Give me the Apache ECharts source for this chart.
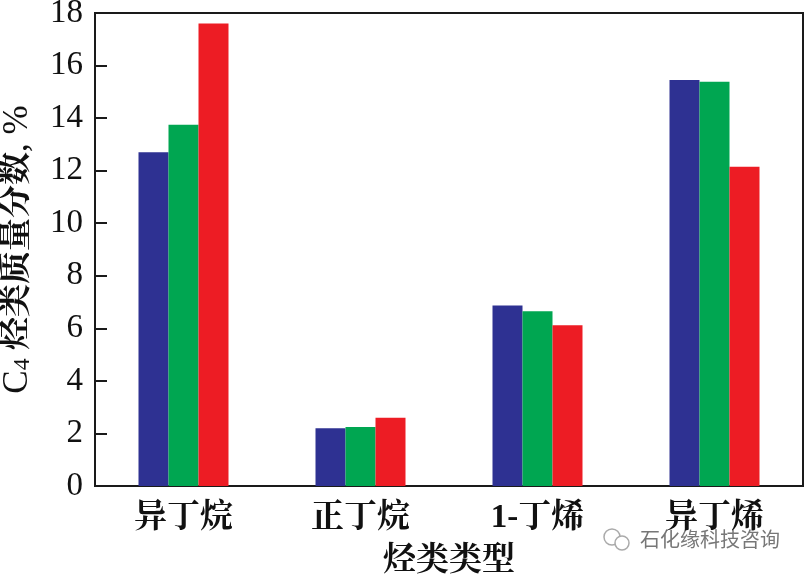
<!DOCTYPE html>
<html><head><meta charset="utf-8">
<script src="https://cdn.jsdelivr.net/npm/echarts@6/dist/echarts.min.js"></script>
<style>html,body{margin:0;padding:0;background:#fff}#c{width:805px;height:574px}</style></head>
<body><div id="c"></div>
<script>
const categories=['异丁烷','正丁烷','1-丁烯','异丁烯'];
const seriesA=[12.7,2.2,6.87,15.45];
const seriesB=[13.75,2.25,6.65,15.38];
const seriesC=[17.6,2.6,6.12,12.15];
const colors=['#2e3192','#00a651','#ed1c24'];
const font='"Liberation Serif","Noto Serif CJK SC","Noto Sans CJK SC",serif';
const chart=echarts.init(document.getElementById('c'));
const bar=(d,c)=>({type:'bar',data:d,barWidth:30,barGap:'0%',itemStyle:{color:c}});
chart.setOption({
 animation:false,
 grid:{left:95,right:2,top:13,bottom:88,show:true,outerBoundsMode:'none',containLabel:false,borderColor:'#1a1a1a',borderWidth:2,backgroundColor:'transparent'},
 xAxis:{type:'category',data:categories,name:'烃类类型',nameLocation:'middle',nameGap:59,
  nameTextStyle:{fontFamily:font,fontSize:33,color:'#111',fontWeight:'bold'},
  axisLine:{lineStyle:{color:'#1a1a1a',width:2}},axisTick:{show:false},
  axisLabel:{fontFamily:font,fontSize:33,color:'#111',margin:16,fontWeight:'bold'}},
 yAxis:{type:'value',min:0,max:18,interval:2,
  name:'{n|C}{s|4}{t| 烃类质量分数}{n|, %}',nameLocation:'middle',nameGap:60,
  nameTextStyle:{rich:{
   t:{fontFamily:font,fontSize:33,color:'#111',fontWeight:'bold'},
   n:{fontFamily:font,fontSize:35,color:'#111'},
   s:{fontFamily:font,fontSize:24,color:'#111',verticalAlign:'bottom'}}},
  axisLine:{show:true,lineStyle:{color:'#1a1a1a',width:2}},
  axisTick:{show:true,inside:true,length:12,lineStyle:{color:'#1a1a1a',width:2}},
  splitLine:{show:false},
  axisLabel:{fontFamily:font,fontSize:33,color:'#111',margin:12}},
 series:[bar(seriesA,colors[0]),bar(seriesB,colors[1]),bar(seriesC,colors[2])],
 graphic:[
  {type:'text',left:640,top:529,style:{text:'石化缘科技咨询',fontFamily:'"Noto Sans CJK SC"',fontSize:20,fill:'#777'}},
  {type:'circle',shape:{cx:612,cy:537,r:8},style:{fill:'none',stroke:'#aaa',lineWidth:1.5}},
  {type:'circle',shape:{cx:622,cy:543,r:7},style:{fill:'#fff',stroke:'#aaa',lineWidth:1.5}}
 ]
});
</script></body></html>
